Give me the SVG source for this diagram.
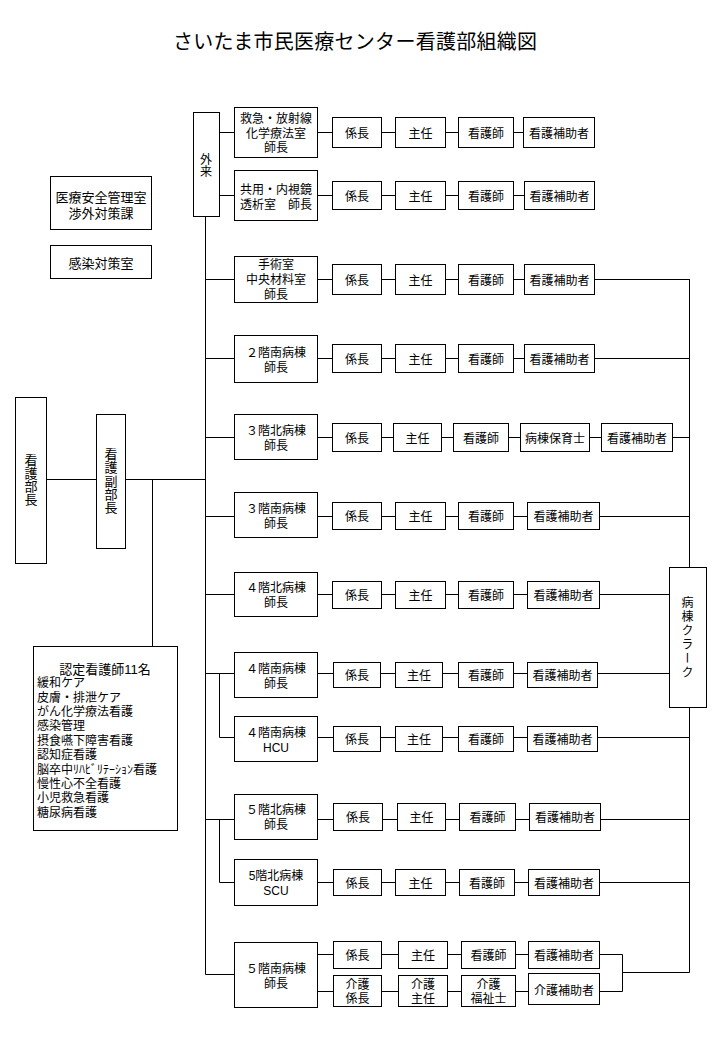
<svg xmlns="http://www.w3.org/2000/svg" width="720" height="1040" viewBox="0 0 720 1040">
<style>
.b{fill:#fff;stroke:#000;stroke-width:1}
.t{font-family:"Liberation Sans","Noto Sans CJK JP","Noto Sans CJK SC",sans-serif;font-size:12px;text-anchor:middle;dominant-baseline:central;fill:#000;transform:translate(0px,1px)}
.l{font-family:"Liberation Sans","Noto Sans CJK JP","Noto Sans CJK SC",sans-serif;font-size:12px;dominant-baseline:central;fill:#000;transform:translate(0px,1px)}
.v{font-family:"Noto Sans CJK JP","Noto Sans CJK SC",sans-serif;font-size:12px;writing-mode:vertical-rl;text-orientation:upright;text-anchor:middle;fill:#000}
.c{fill:none;stroke:#000;stroke-width:1}
</style>
<rect width="720" height="1040" fill="#fff"/>
<text class="t" x="355" y="41" style="font-size:20px" textLength="364" lengthAdjust="spacing">さいたま市民医療センター看護部組織図</text>

<g id="connectors" class="c">
<path d="M47 479.5H96M126 479.5H205.5M152.5 479.5V646M205.5 216V974.5"/>
<path d="M219 132.5H234M219 195.5H234"/>
<path d="M205.5 279.5H234M205.5 358.5H234M205.5 437.5H234M205.5 516.5H234M205.5 594.5H234M205.5 673.5H234M205.5 819.5H234M205.5 974.5H234"/>
<path d="M219.5 673.5V737.5H234M219.5 819.5V882.5H234"/>
<path d="M317 132.5H332M381 132.5H395M445 132.5H458M513 132.5H523"/>
<path d="M317 195.5H332M381 195.5H395M445 195.5H458M513 195.5H524"/>
<path d="M317 279.5H332M381 279.5H395M445 279.5H458M513 279.5H524M594 279.5H689.5"/>
<path d="M317 358.5H332M381 358.5H395M445 358.5H458M513 358.5H524M594 358.5H689.5"/>
<path d="M317 437.5H332M381 437.5H393M441 437.5H453M508 437.5H520M589 437.5H601M672 437.5H689.5"/>
<path d="M317 516.5H332M381 516.5H395M445 516.5H458M513 516.5H527M599 516.5H689.5"/>
<path d="M317 594.5H332M381 594.5H395M445 594.5H458M513 594.5H527M599 594.5H669"/>
<path d="M317 673.5H333M380 673.5H395M442 673.5H458M513 673.5H527M597 673.5H669"/>
<path d="M317 737.5H333M380 737.5H395M442 737.5H458M513 737.5H527M597 737.5H689.5"/>
<path d="M317 819.5H333M382 819.5H397M445 819.5H459M515 819.5H529M600 819.5H689.5"/>
<path d="M317 882.5H333M381 882.5H395M445 882.5H459M514 882.5H528M599 882.5H689.5"/>
<path d="M317 954.5H333M381 954.5H398M447 954.5H461M515 954.5H528M599 954.5H622.5"/>
<path d="M317 991.5H333M381 991.5H398M447 991.5H461M515 991.5H528M599 991.5H622.5"/>
<path d="M622.5 954.5V991.5M622 972.5H689.5M689.5 279V567M689.5 707V972.5"/>
</g>

<g id="n-bucho"><rect class="b" x="15.5" y="397.5" width="31" height="166"/><text class="v" x="31" y="480" style="font-size:13px">看護部長</text></g>
<g id="n-fukubucho"><rect class="b" x="96.5" y="414.5" width="29" height="134"/><text class="v" x="111" y="481" style="font-size:13px;letter-spacing:0.3px">看護副部長</text></g>
<g id="n-anzen"><rect class="b" x="50.5" y="176.5" width="101" height="53"/><text class="t" x="101" y="196" style="font-size:13px">医療安全管理室<tspan x="101" dy="16">渉外対策課</tspan></text></g>
<g id="n-kansen"><rect class="b" x="50.5" y="245.5" width="101" height="33"/><text class="t" x="101" y="262" style="font-size:13px">感染対策室</text></g>
<g id="n-nintei"><rect class="b" x="33.5" y="646.5" width="144" height="184"/>
<text class="l" x="37" y="668"><tspan x="105" style="font-size:13px;text-anchor:middle">認定看護師11名</tspan><tspan x="37" dy="14.4">緩和ケア</tspan><tspan x="37" dy="14.35">皮膚・排泄ケア</tspan><tspan x="37" dy="14.35">がん化学療法看護</tspan><tspan x="37" dy="14.35">感染管理</tspan><tspan x="37" dy="14.35">摂食嚥下障害看護</tspan><tspan x="37" dy="14.35">認知症看護</tspan><tspan x="37" dy="14.35">脳卒中ﾘﾊﾋﾞﾘﾃｰｼｮﾝ看護</tspan><tspan x="37" dy="14.35">慢性心不全看護</tspan><tspan x="37" dy="14.35">小児救急看護</tspan><tspan x="37" dy="14.35">糖尿病看護</tspan></text>
</g>
<g id="n-gairai"><rect class="b" x="193.5" y="112.5" width="26" height="104"/><text class="v" x="206" y="165">外来</text></g>
<g id="n-clerk"><rect class="b" x="669.5" y="567.5" width="37" height="140"/><text class="v" x="687.5" y="638" style="letter-spacing:2px">病棟クラーク</text></g>

<!-- R1 -->
<g id="n-kyukyu"><rect class="b" x="234.5" y="107.5" width="83" height="50"/><text class="t" x="276" y="118">救急・放射線<tspan x="276" dy="14.5">化学療法室</tspan><tspan x="276" dy="14.5">師長</tspan></text></g>
<g id="r1-1"><rect class="b" x="332.5" y="117.5" width="49" height="30"/><text class="t" x="357" y="132.5">係長</text></g>
<g id="r1-2"><rect class="b" x="395.5" y="117.5" width="50" height="30"/><text class="t" x="420.5" y="132.5">主任</text></g>
<g id="r1-3"><rect class="b" x="458.5" y="117.5" width="55" height="30"/><text class="t" x="486" y="132.5">看護師</text></g>
<g id="r1-4"><rect class="b" x="523.5" y="117.5" width="71" height="30"/><text class="t" x="559" y="132.5">看護補助者</text></g>
<!-- R2 -->
<g id="n-kyoyo"><rect class="b" x="234.5" y="170.5" width="83" height="50"/><text class="t" x="276" y="189">共用・内視鏡<tspan x="276" dy="15">透析室　師長</tspan></text></g>
<g id="r2-1"><rect class="b" x="332.5" y="181.5" width="49" height="28"/><text class="t" x="357" y="195.5">係長</text></g>
<g id="r2-2"><rect class="b" x="395.5" y="181.5" width="50" height="28"/><text class="t" x="420.5" y="195.5">主任</text></g>
<g id="r2-3"><rect class="b" x="458.5" y="181.5" width="55" height="28"/><text class="t" x="486" y="195.5">看護師</text></g>
<g id="r2-4"><rect class="b" x="524.5" y="181.5" width="70" height="28"/><text class="t" x="559.5" y="195.5">看護補助者</text></g>
<!-- R3 -->
<g id="n-shujutsu"><rect class="b" x="234.5" y="256.5" width="83" height="46"/><text class="t" x="276" y="264">手術室<tspan x="276" dy="15">中央材料室</tspan><tspan x="276" dy="15">師長</tspan></text></g>
<g id="r3-1"><rect class="b" x="332.5" y="264.5" width="49" height="30"/><text class="t" x="357" y="279.5">係長</text></g>
<g id="r3-2"><rect class="b" x="395.5" y="264.5" width="50" height="30"/><text class="t" x="420.5" y="279.5">主任</text></g>
<g id="r3-3"><rect class="b" x="458.5" y="264.5" width="55" height="30"/><text class="t" x="486" y="279.5">看護師</text></g>
<g id="r3-4"><rect class="b" x="524.5" y="264.5" width="70" height="30"/><text class="t" x="559.5" y="279.5">看護補助者</text></g>
<!-- R4 -->
<g id="n-2s"><rect class="b" x="234.5" y="335.5" width="83" height="47"/><text class="t" x="276" y="351.5">２階南病棟<tspan x="276" dy="15">師長</tspan></text></g>
<g id="r4-1"><rect class="b" x="332.5" y="344.5" width="49" height="28"/><text class="t" x="357" y="358.5">係長</text></g>
<g id="r4-2"><rect class="b" x="395.5" y="344.5" width="50" height="28"/><text class="t" x="420.5" y="358.5">主任</text></g>
<g id="r4-3"><rect class="b" x="458.5" y="344.5" width="55" height="28"/><text class="t" x="486" y="358.5">看護師</text></g>
<g id="r4-4"><rect class="b" x="524.5" y="344.5" width="70" height="28"/><text class="t" x="559.5" y="358.5">看護補助者</text></g>
<!-- R5 -->
<g id="n-3n"><rect class="b" x="234.5" y="414.5" width="83" height="45"/><text class="t" x="276" y="430">３階北病棟<tspan x="276" dy="15">師長</tspan></text></g>
<g id="r5-1"><rect class="b" x="332.5" y="423.5" width="49" height="28"/><text class="t" x="357" y="437.5">係長</text></g>
<g id="r5-2"><rect class="b" x="393.5" y="423.5" width="48" height="28"/><text class="t" x="417.5" y="437.5">主任</text></g>
<g id="r5-3"><rect class="b" x="453.5" y="423.5" width="55" height="28"/><text class="t" x="481" y="437.5">看護師</text></g>
<g id="r5-4"><rect class="b" x="520.5" y="423.5" width="69" height="28"/><text class="t" x="555" y="437.5">病棟保育士</text></g>
<g id="r5-5"><rect class="b" x="601.5" y="423.5" width="71" height="28"/><text class="t" x="637" y="437.5">看護補助者</text></g>
<!-- R6 -->
<g id="n-3s"><rect class="b" x="234.5" y="492.5" width="83" height="45"/><text class="t" x="276" y="508">３階南病棟<tspan x="276" dy="15">師長</tspan></text></g>
<g id="r6-1"><rect class="b" x="332.5" y="502.5" width="49" height="27"/><text class="t" x="357" y="516">係長</text></g>
<g id="r6-2"><rect class="b" x="395.5" y="502.5" width="50" height="27"/><text class="t" x="420.5" y="516">主任</text></g>
<g id="r6-3"><rect class="b" x="458.5" y="502.5" width="55" height="27"/><text class="t" x="486" y="516">看護師</text></g>
<g id="r6-4"><rect class="b" x="527.5" y="502.5" width="72" height="27"/><text class="t" x="563.5" y="516">看護補助者</text></g>
<!-- R7 -->
<g id="n-4n"><rect class="b" x="234.5" y="572.5" width="83" height="44"/><text class="t" x="276" y="587">４階北病棟<tspan x="276" dy="15">師長</tspan></text></g>
<g id="r7-1"><rect class="b" x="332.5" y="581.5" width="49" height="27"/><text class="t" x="357" y="595">係長</text></g>
<g id="r7-2"><rect class="b" x="395.5" y="581.5" width="50" height="27"/><text class="t" x="420.5" y="595">主任</text></g>
<g id="r7-3"><rect class="b" x="458.5" y="581.5" width="55" height="27"/><text class="t" x="486" y="595">看護師</text></g>
<g id="r7-4"><rect class="b" x="527.5" y="581.5" width="72" height="27"/><text class="t" x="563.5" y="595">看護補助者</text></g>
<!-- R8 -->
<g id="n-4s"><rect class="b" x="234.5" y="652.5" width="83" height="45"/><text class="t" x="276" y="668">４階南病棟<tspan x="276" dy="15">師長</tspan></text></g>
<g id="r8-1"><rect class="b" x="333.5" y="662.5" width="47" height="25"/><text class="t" x="357" y="675">係長</text></g>
<g id="r8-2"><rect class="b" x="395.5" y="662.5" width="47" height="25"/><text class="t" x="419" y="675">主任</text></g>
<g id="r8-3"><rect class="b" x="458.5" y="662.5" width="55" height="25"/><text class="t" x="486" y="675">看護師</text></g>
<g id="r8-4"><rect class="b" x="527.5" y="662.5" width="70" height="25"/><text class="t" x="562.5" y="675">看護補助者</text></g>
<!-- R9 -->
<g id="n-hcu"><rect class="b" x="234.5" y="716.5" width="83" height="45"/><text class="t" x="276" y="732">４階南病棟<tspan x="276" dy="15">HCU</tspan></text></g>
<g id="r9-1"><rect class="b" x="333.5" y="726.5" width="47" height="25"/><text class="t" x="357" y="739">係長</text></g>
<g id="r9-2"><rect class="b" x="395.5" y="726.5" width="47" height="25"/><text class="t" x="419" y="739">主任</text></g>
<g id="r9-3"><rect class="b" x="458.5" y="726.5" width="55" height="25"/><text class="t" x="486" y="739">看護師</text></g>
<g id="r9-4"><rect class="b" x="527.5" y="726.5" width="70" height="25"/><text class="t" x="562.5" y="739">看護補助者</text></g>
<!-- R10 -->
<g id="n-5n"><rect class="b" x="234.5" y="794.5" width="83" height="45"/><text class="t" x="276" y="809">５階北病棟<tspan x="276" dy="15">師長</tspan></text></g>
<g id="r10-1"><rect class="b" x="333.5" y="803.5" width="49" height="27"/><text class="t" x="358" y="817">係長</text></g>
<g id="r10-2"><rect class="b" x="397.5" y="803.5" width="48" height="27"/><text class="t" x="421.5" y="817">主任</text></g>
<g id="r10-3"><rect class="b" x="459.5" y="803.5" width="56" height="27"/><text class="t" x="487.5" y="817">看護師</text></g>
<g id="r10-4"><rect class="b" x="529.5" y="803.5" width="71" height="27"/><text class="t" x="565" y="817">看護補助者</text></g>
<!-- R11 -->
<g id="n-scu"><rect class="b" x="234.5" y="859.5" width="83" height="46"/><text class="t" x="276" y="875">5階北病棟<tspan x="276" dy="15">SCU</tspan></text></g>
<g id="r11-1"><rect class="b" x="333.5" y="869.5" width="48" height="26"/><text class="t" x="357.5" y="882.5">係長</text></g>
<g id="r11-2"><rect class="b" x="395.5" y="869.5" width="50" height="26"/><text class="t" x="420.5" y="882.5">主任</text></g>
<g id="r11-3"><rect class="b" x="459.5" y="869.5" width="55" height="26"/><text class="t" x="487" y="882.5">看護師</text></g>
<g id="r11-4"><rect class="b" x="528.5" y="869.5" width="71" height="26"/><text class="t" x="564" y="882.5">看護補助者</text></g>
<!-- R12 -->
<g id="n-5s"><rect class="b" x="234.5" y="942.5" width="83" height="65"/><text class="t" x="276" y="968">５階南病棟<tspan x="276" dy="15">師長</tspan></text></g>
<g id="r12-1"><rect class="b" x="333.5" y="941.5" width="48" height="27"/><text class="t" x="357.5" y="955">係長</text></g>
<g id="r12-2"><rect class="b" x="398.5" y="941.5" width="49" height="27"/><text class="t" x="423" y="955">主任</text></g>
<g id="r12-3"><rect class="b" x="461.5" y="941.5" width="54" height="27"/><text class="t" x="488.5" y="955">看護師</text></g>
<g id="r12-4"><rect class="b" x="528.5" y="941.5" width="71" height="27"/><text class="t" x="564" y="955">看護補助者</text></g>
<g id="r13-1"><rect class="b" x="333.5" y="975.5" width="48" height="31"/><text class="t" x="357.5" y="984">介護<tspan x="357.5" dy="14">係長</tspan></text></g>
<g id="r13-2"><rect class="b" x="398.5" y="975.5" width="49" height="31"/><text class="t" x="423" y="984">介護<tspan x="423" dy="14">主任</tspan></text></g>
<g id="r13-3"><rect class="b" x="461.5" y="975.5" width="54" height="31"/><text class="t" x="488.5" y="984">介護<tspan x="488.5" dy="14">福祉士</tspan></text></g>
<g id="r13-4"><rect class="b" x="528.5" y="973.5" width="71" height="31"/><text class="t" x="564" y="990">介護補助者</text></g>
</svg>
